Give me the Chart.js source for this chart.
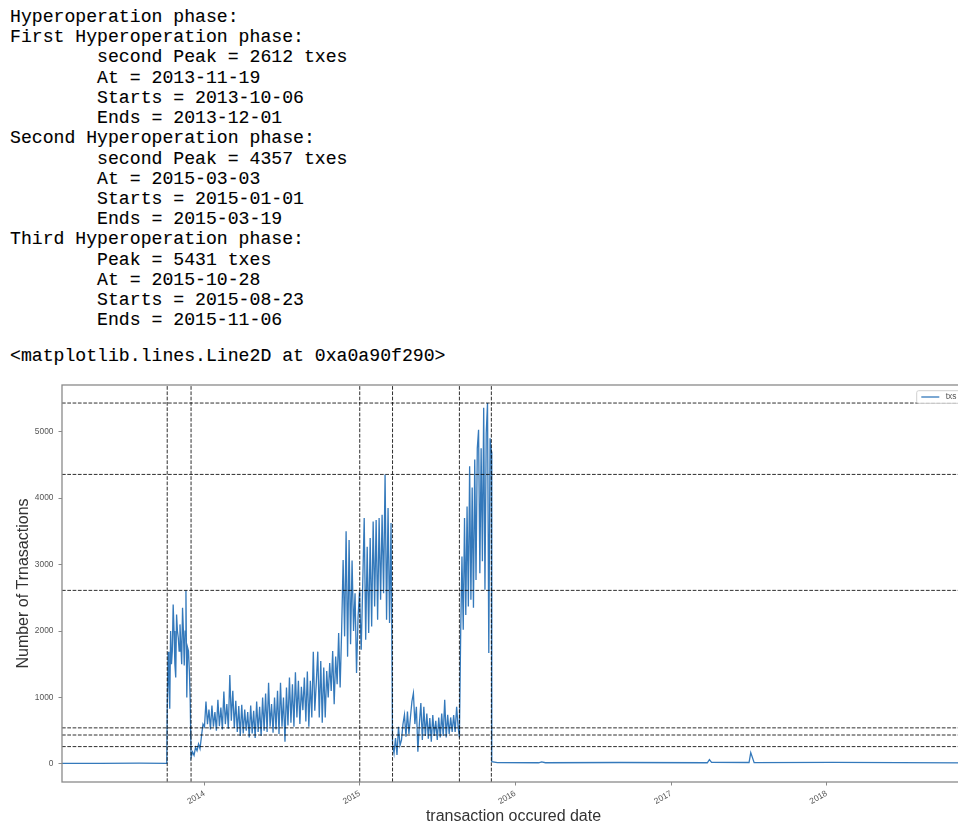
<!DOCTYPE html>
<html>
<head>
<meta charset="utf-8">
<title>Hyperoperation phases</title>
<script src="https://cdn.jsdelivr.net/npm/chart.js@4.4.1/dist/chart.umd.min.js"></script>
<style>
  html, body { margin: 0; padding: 0; background: #fff; width: 958px; height: 828px; overflow: hidden; }
  .out {
    position: absolute; left: 10px; margin: 0;
    font-family: "Liberation Mono", "DejaVu Sans Mono", monospace;
    font-size: 18.15px; line-height: 20.22px; color: #000;
    -webkit-text-stroke: 0.12px #000;
    white-space: pre; tab-size: 8; -moz-tab-size: 8;
  }
  #log { top: 7px; }
  #repr { top: 346px; }
  #wrap { position: absolute; left: 0; top: 372px; width: 958px; height: 456px; overflow: hidden; }
  #chart { position: absolute; left: 0; top: 0; }
</style>
</head>
<body>
<pre id="log" class="out"></pre>
<pre id="repr" class="out">&lt;matplotlib.lines.Line2D at 0xa0a90f290&gt;</pre>
<div id="wrap"><canvas id="chart" width="980" height="456"></canvas></div>
<script>
// Phase summary
const phaseNames  = ['First', 'Second', 'Third'];
const peakNames   = ['second Peak', 'second Peak', 'Peak'];
const peakValues  = [2612, 4357, 5431];
const peakDates   = ['2013-11-19', '2015-03-03', '2015-10-28'];
const phaseStarts = ['2013-10-06', '2015-01-01', '2015-08-23'];
const phaseEnds   = ['2013-12-01', '2015-03-19', '2015-11-06'];
const lowLevels   = [261.2, 435.7, 543.1];

// Axis ticks
const yTicks     = [0, 1000, 2000, 3000, 4000, 5000];
const yearLabels = ['2014', '2015', '2016', '2017', '2018'];

// Daily transaction counts (txs)
const quietBeforeDates  = ['2013-02-01', '2013-05-01', '2013-08-01', '2013-10-05'];
const quietBeforeValues = [10, 9, 11, 10];

// 2013-10-06 onwards, every 2 days
const hyper1Values = [810, 1690, 1200, 830, 2000, 1500, 1700, 2400, 2000, 1500, 1300, 2250, 2000, 1900,
  1700, 2100, 1800, 1500, 2350, 2000, 1480, 2000, 2612, 1000, 1750, 1700, 1400, 950];

// 2013-12-01 onwards, every 3.5 days
const calm1Values = [100, 180, 130, 250, 200, 300, 230,
  420, 600, 560,
  940, 600, 820, 520, 880, 560, 780, 500, 965, 570,
  850, 520, 1090, 600, 900, 530, 1340, 650, 1100, 540,
  950, 480, 870, 420, 890, 460, 820, 500, 780, 400,
  880, 460, 800, 390, 940, 480, 860, 420, 1000, 500,
  1060, 480, 1220, 560, 900, 470, 1000, 520, 1100, 450,
  1220, 560, 1000, 335, 1150, 580, 1300, 620, 1200, 560,
  1380, 700, 1250, 600, 1160, 810, 1300, 640, 1390, 560,
  1250, 700, 1690, 800, 1220, 1690, 700, 1550, 620, 1450,
  700, 1400, 1000, 1520, 1100, 1700, 900, 1615, 1200, 1970,
  1150, 2000, 3070, 1920, 3500, 1615, 3370, 1800, 3060, 2000,
  2570, 1370, 2200, 2600];

// 2015-01-01 onwards, every 3.5 days
const hyper2Values = [2450, 1720, 2700, 3700, 1870, 3270, 1970, 3400, 2070, 3650, 2370, 3670,
  2170, 3700, 2470, 3750, 2570, 4357, 2170, 3850, 2120, 3625];

// 2015-03-19 onwards, every 3.5 days
const calm2Values = [300, 160, 390, 135, 560, 280, 360, 600, 740, 410, 790, 450, 700, 940, 1065,
  600, 860, 185, 600, 915, 360, 860, 420, 760, 380, 690, 335, 735, 420, 650, 360, 700, 400,
  760, 420, 965, 400, 740, 450, 700, 480, 735, 480, 860, 560];

// 2015-08-23 onwards, every 3 days
const hyper3Values = [400, 1970, 3120, 2020, 3700, 2240, 3875, 2370, 4480, 2470, 4160, 2350, 4580,
  2770, 4750, 5030, 2870, 4750, 3050, 5360, 2620, 4980, 5431, 1670, 4900, 4700];

const quietAfterDates  = ['2015-11-07', '2015-11-20', '2016-02-25', '2016-03-03', '2016-03-12', '2016-09-01',
  '2017-03-27', '2017-04-01', '2017-04-06', '2017-07-03', '2017-07-07', '2017-07-15', '2018-01-15', '2018-11-22'];
const quietAfterValues = [35, 20, 18, 30, 18, 22, 18, 65, 25, 22, 170, 20, 25, 15];

// ---------------------------------------------------------------------------
const day = s => Date.parse(s + 'T00:00:00Z') / 864e5;

// printed summary
const lines = ['Hyperoperation phase:'];
phaseNames.forEach((name, i) => {
  lines.push(name + ' Hyperoperation phase:');
  lines.push('\t' + peakNames[i] + ' = ' + peakValues[i] + ' txes');
  lines.push('\tAt = ' + peakDates[i]);
  lines.push('\tStarts = ' + phaseStarts[i]);
  lines.push('\tEnds = ' + phaseEnds[i]);
});
document.getElementById('log').textContent = lines.join('\n');

const pairs = (dates, values) => dates.map((d, i) => ({ x: day(d), y: values[i] }));
const stepped = (start, step, values) => values.map((v, i) => ({ x: day(start) + i * step, y: v }));

const txs = [].concat(
  pairs(quietBeforeDates, quietBeforeValues),
  stepped('2013-10-06', 2, hyper1Values),
  stepped('2013-12-01', 3.5, calm1Values),
  stepped('2015-01-01', 3.5, hyper2Values),
  stepped('2015-03-19', 3.5, calm2Values),
  stepped('2015-08-23', 3, hyper3Values),
  pairs(quietAfterDates, quietAfterValues)
);

const X_MIN = day('2013-02-01');
const X_MAX = day('2018-11-22');
const Y_MIN = -271.55;
const Y_MAX = 5702.55;

const refLine = data => ({
  data, borderColor: 'rgba(0,0,0,0.82)', borderWidth: 1, borderDash: [3.7, 1.6],
  pointRadius: 0, tension: 0, order: 0, fill: false
});
const boundaryDates = [...phaseStarts, ...phaseEnds];
const levelValues = [...peakValues, ...lowLevels];

const datasets = [
  {
    label: 'txs', data: txs, borderColor: '#3479bb', borderWidth: 1.3,
    pointRadius: 0, tension: 0, order: 1, fill: false, showInKey: true
  },
  ...boundaryDates.map(d => refLine([{ x: day(d), y: Y_MIN }, { x: day(d), y: Y_MAX }])),
  ...levelValues.map(v => refLine([{ x: X_MIN, y: v }, { x: X_MAX, y: v }]))
];

const tickFont = { family: 'Liberation Sans', size: 8.4 };
const titleFont = { family: 'Liberation Sans', size: 16 };

// box around the plotting area
const frame = {
  id: 'frame',
  afterDatasetsDraw(chart) {
    const { ctx, chartArea: a } = chart;
    ctx.save();
    ctx.strokeStyle = '#8a8a8a';
    ctx.lineWidth = 1.3;
    ctx.strokeRect(a.left, a.top, a.right - a.left, a.bottom - a.top);
    ctx.restore();
  }
};

// legend in the upper right corner of the plot
const keyBox = {
  id: 'keyBox',
  afterDraw(chart) {
    const ds = chart.data.datasets.find(d => d.showInKey);
    const { ctx, chartArea: a } = chart;
    ctx.save();
    ctx.font = '8.4px "Liberation Sans"';
    const pad = 4.6, handle = 18, gap = 6.4, h = 12.6;
    const tw = ctx.measureText(ds.label).width;
    const w = pad + handle + gap + tw + pad;
    const x0 = a.right - 4 - w, y0 = a.top + 5.7;
    ctx.beginPath();
    ctx.roundRect(x0, y0, w, h, 2);
    ctx.fillStyle = 'rgba(255,255,255,0.85)';
    ctx.fill();
    ctx.strokeStyle = '#d0d0d0';
    ctx.lineWidth = 1;
    ctx.stroke();
    ctx.beginPath();
    ctx.moveTo(x0 + pad, y0 + h / 2);
    ctx.lineTo(x0 + pad + handle, y0 + h / 2);
    ctx.strokeStyle = ds.borderColor;
    ctx.lineWidth = ds.borderWidth;
    ctx.stroke();
    ctx.fillStyle = '#555';
    ctx.textBaseline = 'middle';
    ctx.fillText(ds.label, x0 + pad + handle + gap, y0 + h / 2);
    ctx.restore();
  }
};

new Chart(document.getElementById('chart'), {
  type: 'line',
  data: { datasets },
  plugins: [frame, keyBox],
  options: {
    responsive: false,
    animation: false,
    parsing: true,
    layout: { padding: { top: 13, right: 15, bottom: 0, left: 0 } },
    plugins: { legend: { display: false }, tooltip: { enabled: false } },
    scales: {
      x: {
        type: 'linear', min: X_MIN, max: X_MAX,
        afterBuildTicks: s => { s.ticks = yearLabels.map(y => ({ value: day(y + '-01-01') })); },
        afterFit: s => { s.height = 46; },
        ticks: {
          autoSkip: false, minRotation: 30, maxRotation: 30, padding: 3,
          color: '#555', font: tickFont,
          callback: (v, i) => yearLabels[i]
        },
        grid: { display: true, drawOnChartArea: false, drawTicks: true, tickLength: 3.5, color: '#8a8a8a', lineWidth: 1 },
        border: { display: false },
        title: { display: true, text: 'transaction occured date', color: '#333', font: titleFont, padding: { top: 0, bottom: 1.4 } }
      },
      y: {
        type: 'linear', min: Y_MIN, max: Y_MAX,
        afterBuildTicks: s => { s.ticks = yTicks.map(v => ({ value: v })); },
        afterFit: s => { s.width = 62; },
        ticks: { padding: 5, color: '#555', font: tickFont, callback: v => String(v) },
        grid: { display: true, drawOnChartArea: false, drawTicks: true, tickLength: 3.5, color: '#8a8a8a', lineWidth: 1 },
        border: { display: false },
        title: { display: true, text: 'Number of Trnasactions', color: '#333', font: titleFont, padding: { top: 13.5, bottom: 0 } }
      }
    }
  }
});
</script>
</body>
</html>
